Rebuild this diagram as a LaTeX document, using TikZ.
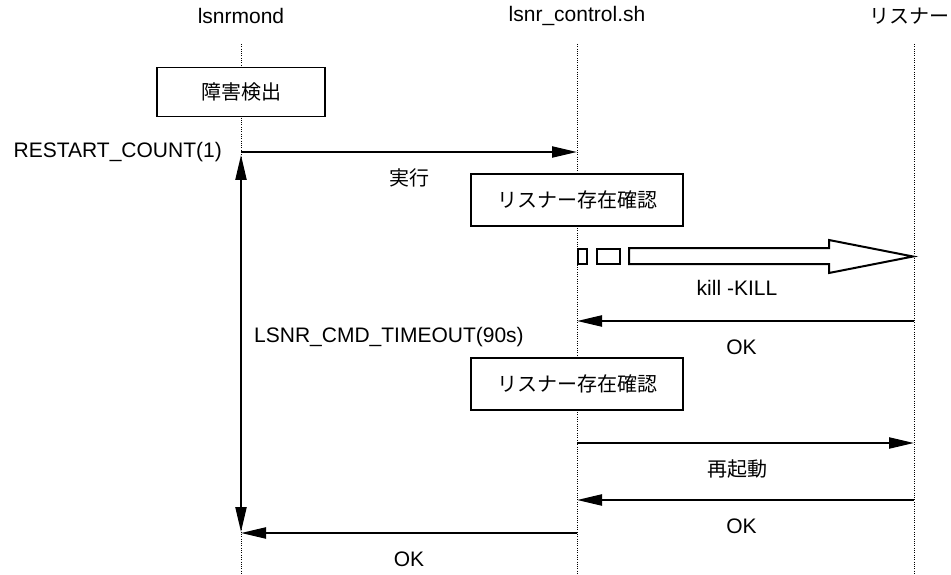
\documentclass[tikz,border=0pt]{standalone}
\usepackage{fontspec}
\setmainfont{Liberation Sans}
\newfontfamily\jpfont{Noto Sans CJK JP}
\usetikzlibrary{arrows.meta}
\usetikzlibrary{positioning}
\newcommand{\lblsize}{\fontsize{21}{25}\selectfont}
\newcommand{\jpsize}{\fontsize{20}{24}\selectfont}
\tikzset{
    lifeline/.style={line width=0.9pt, dash pattern=on 1pt off 1.3pt},
    lbl/.style={font=\lblsize, inner sep=0pt},
    jplbl/.style={font=\jpfont\jpsize, inner sep=0pt},
    procbox/.style={draw, fill=white, line width=1.6pt, font=\jpfont\jpsize,
        minimum width=212pt, minimum height=52pt, inner sep=0pt},
    msg/.style={line width=2.2pt, -{Triangle[length=25pt,width=11pt]}},
    msglbl/.style={midway, yshift=-26pt},
}
\begin{document}
\begin{tikzpicture}[x=1pt, y=-1pt]
        \useasboundingbox (0,0) rectangle (951,575);
        \def\xm{241} % lsnrmond
        \def\xc{577} % lsnr_control.sh
        \def\xl{914} % listener

        % heads
        \node[lbl] (mond) at (\xm,16) {lsnrmond};
        \node[lbl] (ctrl) at (\xc,16) {lsnr\_control.sh};
        \node[jplbl, anchor=east] (lsnr) at (950,16) {リスナー};

        % lifelines
        \foreach \x/\n in {\xm/mond,\xc/ctrl,\xl/lsnr} {
            \coordinate (\n top) at (\x,44);
            \coordinate (\n bot) at (\x,575);
            \draw[lifeline] (\n top) -- (\n bot);
        }

        % boxes
        \node[procbox, minimum width=168pt, minimum height=49pt] (detect) at (\xm,92) {障害検出};
        \node[procbox] (check1) at (\xc,200) {リスナー存在確認};
        \node[procbox] (check2) at (\xc,384) {リスナー存在確認};

        % message points
        \coordinate (mExec) at (\xm,152);
        \coordinate (cExec) at (\xc,152);
        \coordinate (lKill) at (\xl,321);
        \coordinate (cKill) at (\xc,321);
        \coordinate (cRestart) at (\xc,443);
        \coordinate (lRestart) at (\xl,443);
        \coordinate (lOk) at (\xl,500);
        \coordinate (cOk) at (\xc,500);
        \coordinate (cRet) at (\xc,533);
        \coordinate (mRet) at (\xm,533);
        \coordinate (mUp) at (\xm,155);
        \coordinate (mDown) at (\xm,532);

        % messages
        \draw[msg] (mExec) -- (cExec) node[msglbl, jplbl] {実行};
        \draw[msg] (lKill) -- (cKill) node[msglbl, lbl, xshift=-4pt] {OK};
        \draw[msg] (cRestart) -- (lRestart) node[msglbl, jplbl, xshift=-8pt] {再起動};
        \draw[msg] (lOk) -- (cOk) node[msglbl, lbl, xshift=-4pt] {OK};
        \draw[msg] (cRet) -- (mRet) node[msglbl, lbl] {OK};

        % timeout span
        \draw[line width=2.2pt, {Triangle[length=25pt,width=11pt]}-{Triangle[length=25pt,width=11pt]}] (mUp) -- (mDown);
        \node[lbl, anchor=east] (count) at (222,152) {RESTART\_COUNT(1)};
        \node[lbl, anchor=west] (timeout) at (254,337) {LSNR\_CMD\_TIMEOUT(90s)};

        % kill signal
        \draw[line width=1.6pt] (\xc+1,249) rectangle (\xc+10,264);
        \draw[line width=1.6pt] (\xc+20,249) rectangle (\xc+43,264);
        \draw[line width=2pt, fill=white] (\xc+52,248) -- (829,248) -- (829,240)
            -- (\xl-1,256.5) -- (829,273) -- (829,264) -- (\xc+52,264) -- cycle;
        \node[lbl] (kill) at (737,288) {kill -KILL};
        \end{tikzpicture}
\end{document}
